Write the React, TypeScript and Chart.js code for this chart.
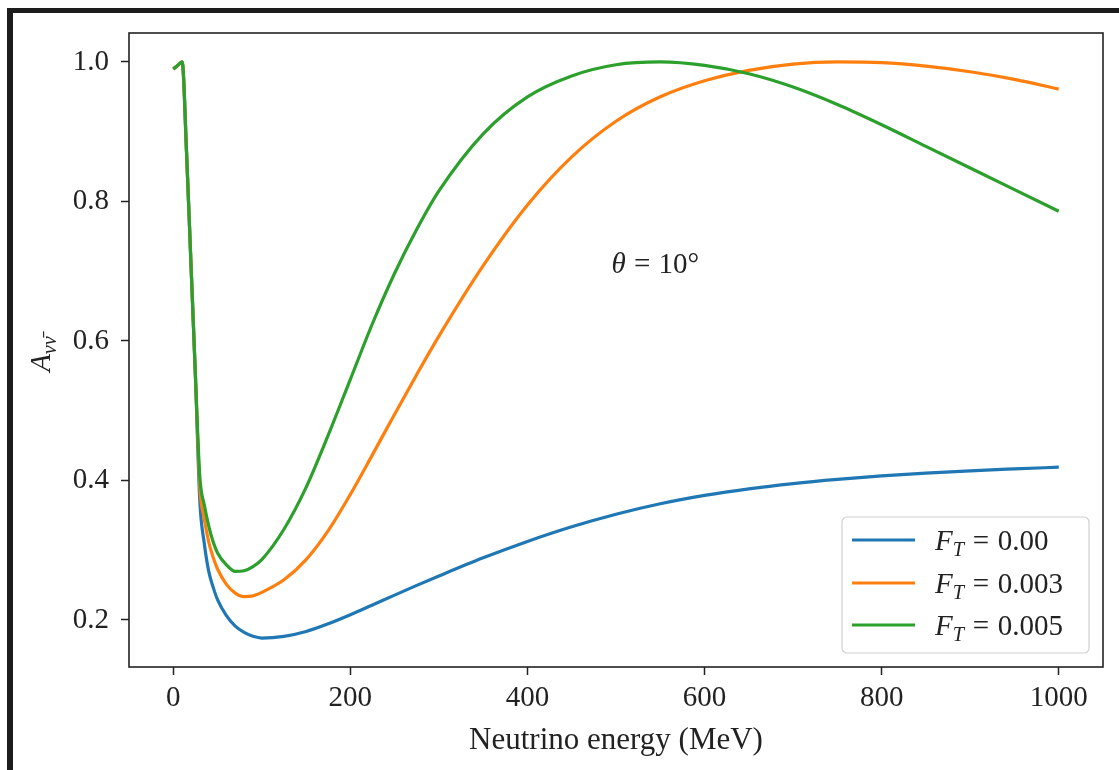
import React, { useEffect, useRef } from "react";
import { Chart, registerables } from "chart.js";

Chart.register(...registerables);

// ---------------- data ----------------
const energyMeV = [
  0, 5, 10, 15, 20, 25, 30, 35, 40, 45, 50, 60, 70, 80, 90, 100, 125, 150, 175, 200,
  225, 250, 275, 300, 350, 400, 450, 500, 550, 600, 650, 700, 750, 800, 850, 900, 950, 1000,
];
const ftZero = [
  0.99, 0.995, 1.0, 0.87, 0.71, 0.55, 0.37, 0.31, 0.27, 0.247, 0.229, 0.206, 0.191, 0.182, 0.1765, 0.174,
  0.1765, 0.1835, 0.1945, 0.2075, 0.2215, 0.2355, 0.2495, 0.263, 0.289, 0.3125, 0.3335, 0.3515, 0.3665, 0.3785,
  0.388, 0.3955, 0.4015, 0.4065, 0.4105, 0.4138, 0.4165, 0.419,
];
const ftThree = [
  0.99, 0.995, 1.0, 0.87, 0.71, 0.55, 0.39, 0.345, 0.312, 0.29, 0.273, 0.251, 0.2385, 0.2335, 0.2345, 0.2395,
  0.2575, 0.2865, 0.328, 0.38, 0.437, 0.495, 0.552, 0.607, 0.708, 0.795, 0.864, 0.915, 0.95, 0.973,
  0.988, 0.997, 1.0, 0.999, 0.994, 0.986, 0.975, 0.961,
];
const ftFive = [
  0.99, 0.995, 1.0, 0.87, 0.71, 0.55, 0.405, 0.365, 0.335, 0.312, 0.296, 0.279, 0.2695, 0.2705, 0.2765, 0.2865,
  0.33, 0.39, 0.465, 0.545, 0.625, 0.697, 0.76, 0.815, 0.897, 0.95, 0.98, 0.996, 1.0, 0.995,
  0.983, 0.964, 0.939, 0.91, 0.879, 0.848, 0.817, 0.786,
];
const seriesValues = [ftZero, ftThree, ftFive];
const seriesLabels = ["0.00", "0.003", "0.005"];
const seriesColors = ["#1f77b4", "#ff7f0e", "#2ca02c"];
const xTicks = [0, 200, 400, 600, 800, 1000];
const yTicks = [0.2, 0.4, 0.6, 0.8, 1.0];
const xRange = [-50, 1050];
const yRange = [0.1325, 1.0415];
const xTitle = "Neutrino energy (MeV)";
const angleText = "10°";
const annotationAt = [495, 0.712];

// ---------------- helpers ----------------
const FONT = '"Liberation Serif", "Times New Roman", serif';

type Seg = { t: string; it?: boolean; sub?: boolean; gl?: number; gr?: number };

function segFont(s: Seg, size: number) {
  const sz = s.sub ? size * 0.7 : size;
  return `${s.it ? "italic " : ""}${sz}px ${FONT}`;
}
function segsWidth(ctx: CanvasRenderingContext2D, segs: Seg[], size: number) {
  let w = 0;
  for (const s of segs) {
    ctx.font = segFont(s, size);
    w += ctx.measureText(s.t).width + ((s.gl || 0) + (s.gr || 0)) * size;
  }
  return w;
}
function drawSegs(ctx: CanvasRenderingContext2D, segs: Seg[], x: number, y: number, size: number) {
  ctx.textAlign = "left";
  ctx.textBaseline = "alphabetic";
  let cx = x;
  for (const s of segs) {
    ctx.font = segFont(s, size);
    cx += (s.gl || 0) * size;
    ctx.fillText(s.t, cx, y + (s.sub ? size * 0.22 : 0));
    cx += ctx.measureText(s.t).width + (s.gr || 0) * size;
  }
}

const decorPlugin = {
  id: "decor",
  afterDraw(chart: any) {
    const ctx: CanvasRenderingContext2D = chart.ctx;
    const a = chart.chartArea;
    const xs = chart.scales.x;
    const ys = chart.scales.y;
    ctx.save();
    // spines
    ctx.strokeStyle = "#222";
    ctx.lineWidth = 1.6;
    ctx.strokeRect(a.left, a.top, a.right - a.left, a.bottom - a.top);

    ctx.fillStyle = "#222";
    // x title
    ctx.font = `31px ${FONT}`;
    ctx.textAlign = "center";
    ctx.textBaseline = "middle";
    ctx.fillText(xTitle, (a.left + a.right) / 2, 741);

    // y title (rotated)
    const ySegs: Seg[] = [{ t: "A", it: true }, { t: "νν̄", it: true, sub: true }];
    const yw = segsWidth(ctx, ySegs, 29);
    ctx.save();
    ctx.translate(50, (a.top + a.bottom) / 2 + 4);
    ctx.rotate(-Math.PI / 2);
    drawSegs(ctx, ySegs, -yw / 2, 0, 29);
    ctx.restore();

    // annotation
    const th: Seg[] = [{ t: "θ", it: true }, { t: "=", gl: 0.28, gr: 0.28 }, { t: angleText }];
    drawSegs(ctx, th, xs.getPixelForValue(annotationAt[0]), ys.getPixelForValue(annotationAt[1]) + 10, 29);

    // legend
    const bw = 247, bh = 136;
    const bx = a.right - 14 - bw;
    const by = a.bottom - 14 - bh;
    ctx.beginPath();
    const r = 5;
    ctx.moveTo(bx + r, by);
    ctx.lineTo(bx + bw - r, by);
    ctx.arcTo(bx + bw, by, bx + bw, by + r, r);
    ctx.lineTo(bx + bw, by + bh - r);
    ctx.arcTo(bx + bw, by + bh, bx + bw - r, by + bh, r);
    ctx.lineTo(bx + r, by + bh);
    ctx.arcTo(bx, by + bh, bx, by + bh - r, r);
    ctx.lineTo(bx, by + r);
    ctx.arcTo(bx, by, bx + r, by, r);
    ctx.closePath();
    ctx.fillStyle = "rgba(255,255,255,0.85)";
    ctx.fill();
    ctx.strokeStyle = "#d0d0d0";
    ctx.lineWidth = 1.2;
    ctx.stroke();
    const rows = [23, 66, 108];
    seriesLabels.forEach((lab, i) => {
      const ly = by + rows[i];
      ctx.strokeStyle = seriesColors[i];
      ctx.lineWidth = 3.2;
      ctx.beginPath();
      ctx.moveTo(bx + 10, ly);
      ctx.lineTo(bx + 73, ly);
      ctx.stroke();
      ctx.fillStyle = "#222";
      const segs: Seg[] = [
        { t: "F", it: true },
        { t: "T", it: true, sub: true },
        { t: "=", gl: 0.3, gr: 0.3 },
        { t: lab },
      ];
      drawSegs(ctx, segs, bx + 93, ly + 10, 29);
    });
    ctx.restore();
  },
};

export default function App() {
  const ref = useRef<HTMLCanvasElement | null>(null);
  useEffect(() => {
    if (!ref.current) return;
    const chart = new Chart(ref.current, {
      type: "line",
      data: {
        datasets: seriesValues.map((vals, i) => ({
          label: seriesLabels[i],
          data: energyMeV.map((x, j) => ({ x, y: vals[j] })),
          borderColor: seriesColors[i],
          borderWidth: 3.2,
          pointRadius: 0,
          fill: false,
          order: seriesValues.length - i,
          cubicInterpolationMode: "monotone" as const,
        })),
      },
      options: {
        responsive: false,
        animation: false,
        devicePixelRatio: 1,
        layout: { padding: { top: 33, right: 16, left: 0, bottom: 0 } },
        plugins: { legend: { display: false }, tooltip: { enabled: false }, title: { display: false } },
        scales: {
          x: {
            type: "linear",
            min: xRange[0],
            max: xRange[1],
            afterBuildTicks: (s: any) => {
              s.ticks = xTicks.map((v) => ({ value: v }));
            },
            afterFit: (s: any) => {
              s.height = 103;
            },
            border: { display: false },
            grid: { drawOnChartArea: false, drawTicks: true, tickLength: 8, tickColor: "#222", tickWidth: 1.5 },
            ticks: {
              color: "#222",
              font: { family: FONT, size: 29 },
              padding: 6,
              maxRotation: 0,
              callback: (v: any) => String(v),
            },
          },
          y: {
            type: "linear",
            min: yRange[0],
            max: yRange[1],
            afterBuildTicks: (s: any) => {
              s.ticks = yTicks.map((v) => ({ value: v }));
            },
            afterFit: (s: any) => {
              s.width = 129;
            },
            border: { display: false },
            grid: { drawOnChartArea: false, drawTicks: true, tickLength: 8, tickColor: "#222", tickWidth: 1.5 },
            ticks: {
              color: "#222",
              font: { family: FONT, size: 29 },
              padding: 12,
              callback: (v: any) => Number(v).toFixed(1),
            },
          },
        },
      },
      plugins: [decorPlugin],
    });
    return () => chart.destroy();
  }, []);
  return (
    <div style={{ position: "fixed", left: 0, top: 0, width: 1119, height: 770, background: "#fff", overflow: "hidden" }}>
      <div
        style={{
          position: "absolute",
          left: 7,
          top: 8,
          width: 1112,
          height: 762,
          borderLeft: "6px solid #1c1c1c",
          borderTop: "5px solid #1c1c1c",
          boxSizing: "border-box",
        }}
      />
      <canvas ref={ref} width={1119} height={770} style={{ position: "absolute", left: 0, top: 0, width: 1119, height: 770 }} />
    </div>
  );
}
